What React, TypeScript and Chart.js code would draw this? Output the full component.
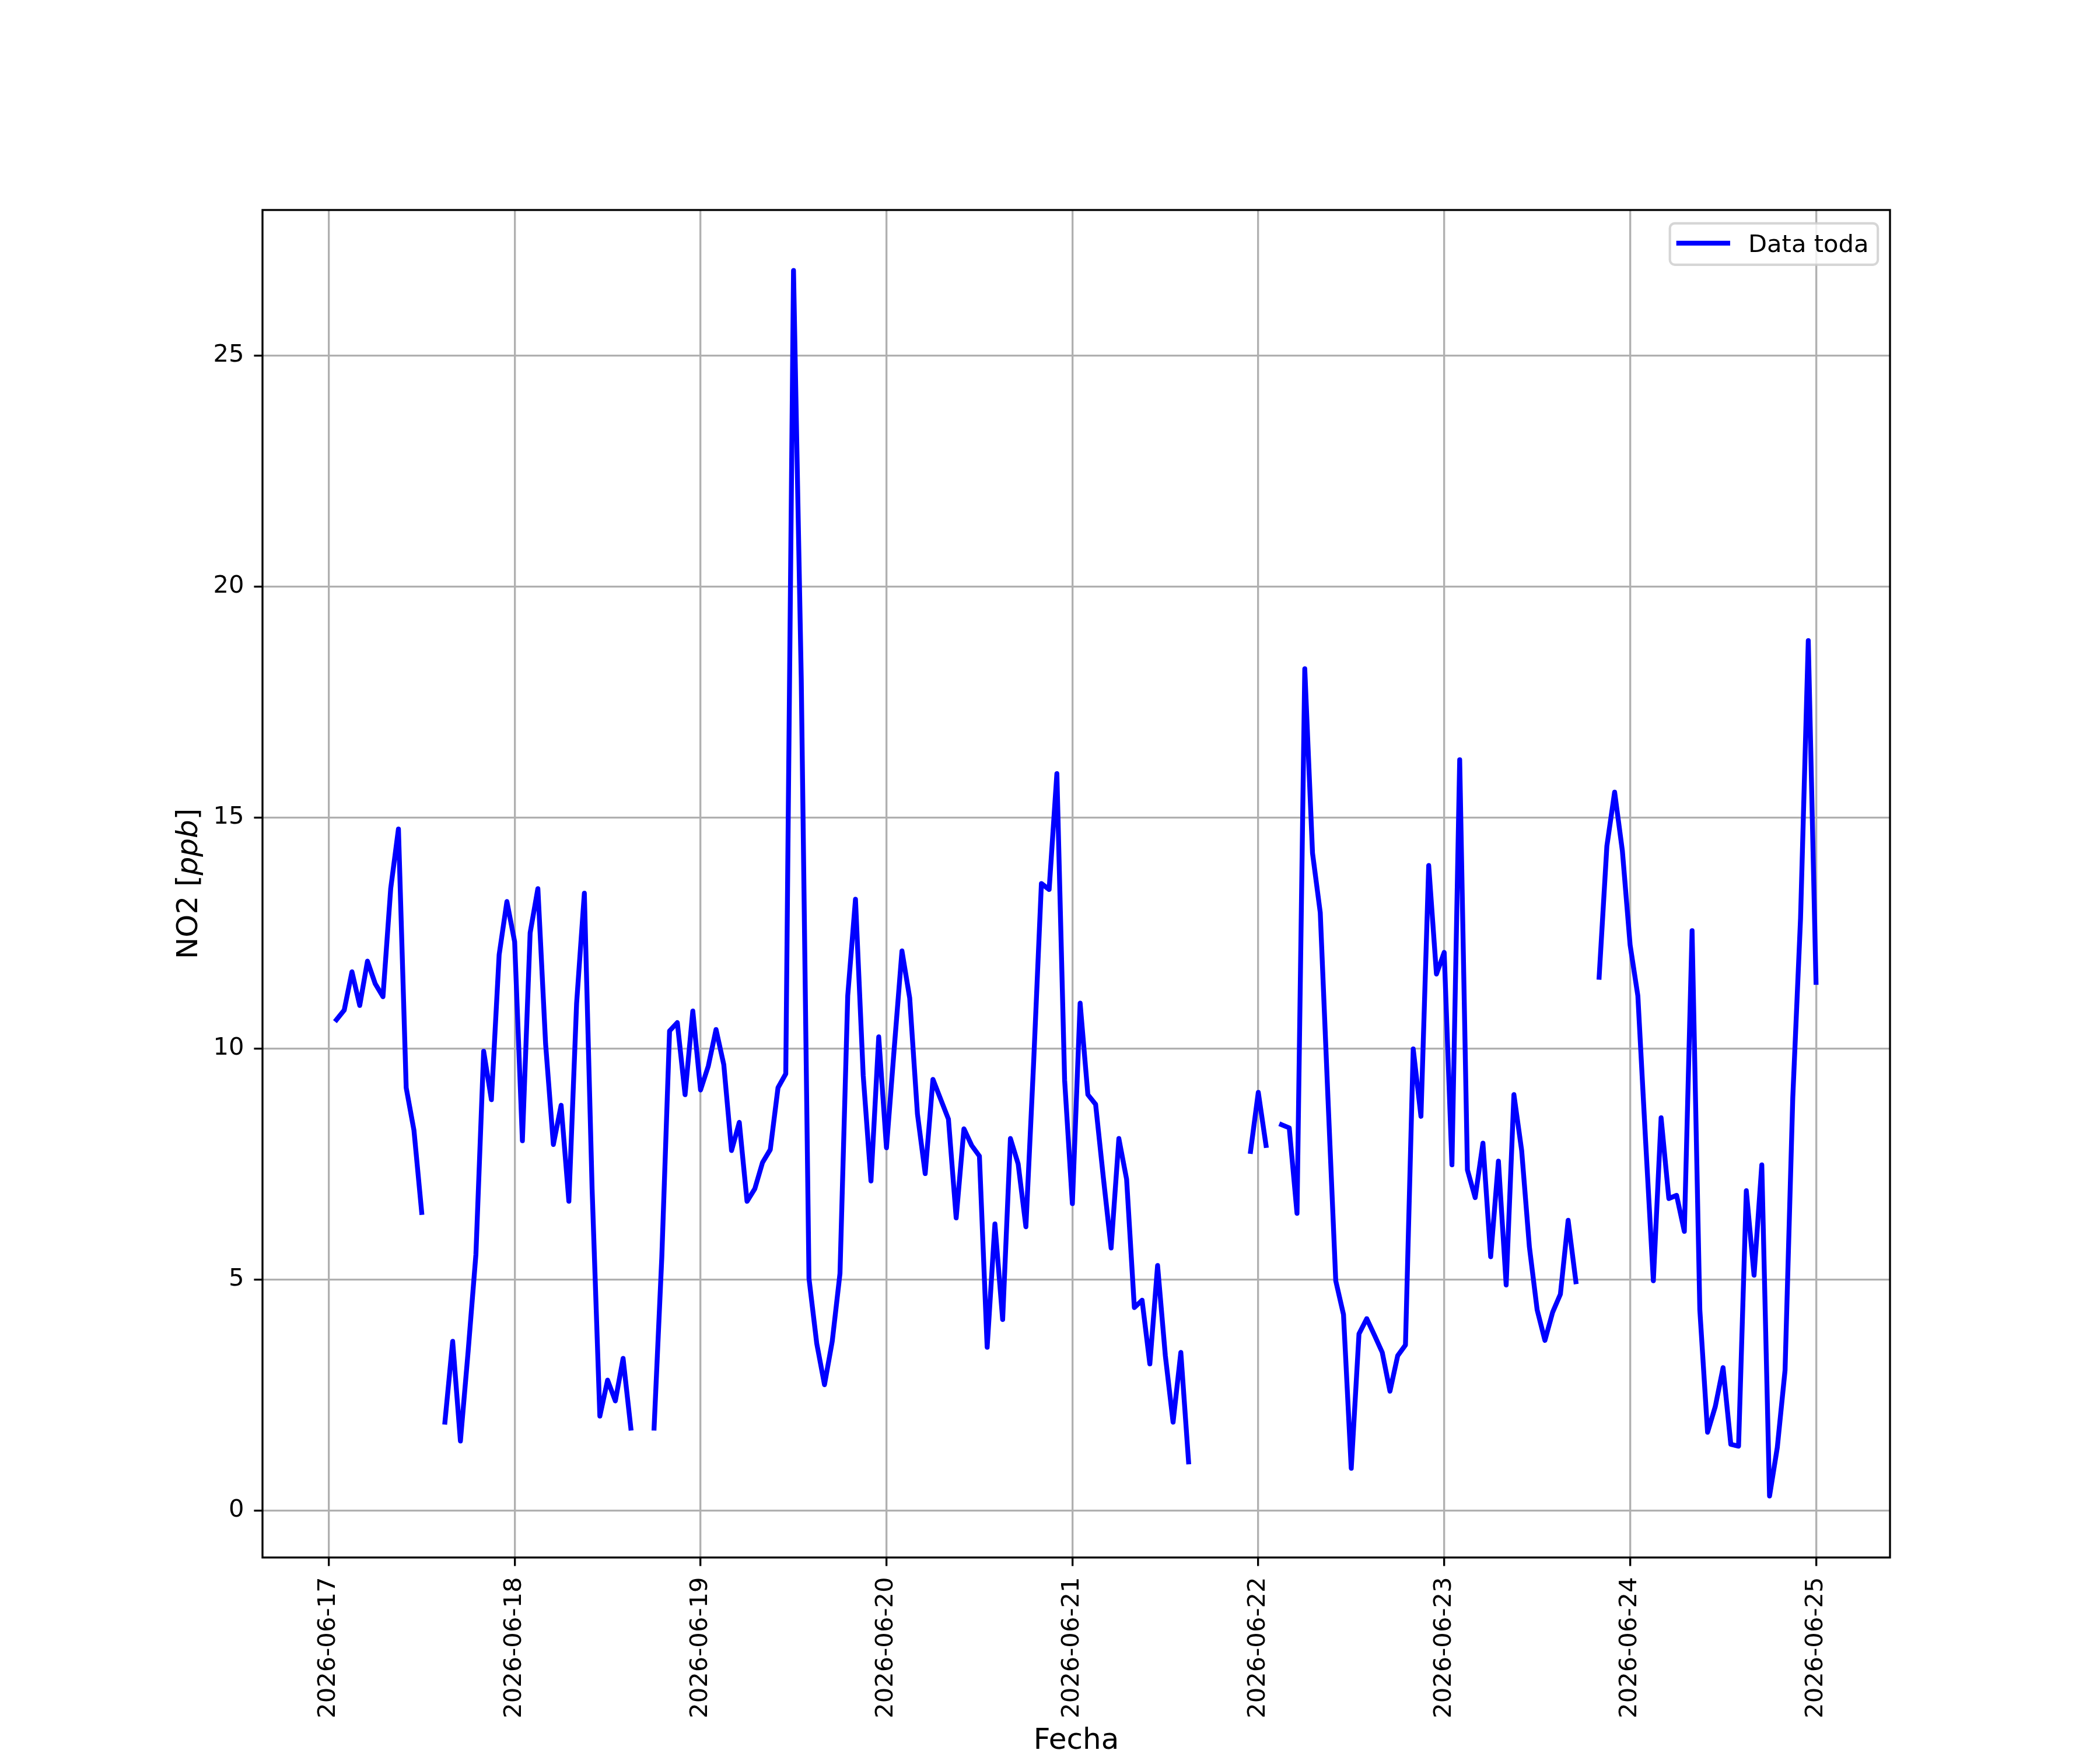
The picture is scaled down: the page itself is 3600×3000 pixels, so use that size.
import React, { useEffect, useRef } from 'react';
import { Chart, registerables } from 'chart.js';

Chart.register(...registerables);

// ---- data ----
const dayLabels = [
  '2026-06-17', '2026-06-18', '2026-06-19', '2026-06-20', '2026-06-21',
  '2026-06-22', '2026-06-23', '2026-06-24', '2026-06-25',
];
// hourly samples, first one at 01:00 on 2026-06-17 (hours after 2026-06-17 00:00)
const firstHour = 1;
const no2: (number | null)[] = [
  // 2026-06-17 01..24
  10.62, 10.83, 11.66, 10.93, 11.89, 11.40, 11.12, 13.46, 14.75, 9.15, 8.23, 6.45,
  null, null, 1.91, 3.66, 1.50, 3.45, 5.54, 9.94, 8.89, 12.03, 13.18, 12.31,
  // 2026-06-18 01..24
  8.00, 12.50, 13.46, 10.09, 7.92, 8.77, 6.69, 10.98, 13.36, 6.96, 2.04, 2.82,
  2.37, 3.29, 1.78, null, null, 1.78, 5.49, 10.38, 10.56, 9.00, 10.81, 9.10,
  // 2026-06-19 01..24
  9.62, 10.41, 9.65, 7.79, 8.40, 6.69, 6.96, 7.53, 7.81, 9.15, 9.45, 26.84,
  18.0, 5.02, 3.61, 2.72, 3.66, 5.13, 11.14, 13.23, 9.41, 7.13, 10.25, 7.85,
  // 2026-06-20 01..24
  10.0, 12.11, 11.09, 8.58, 7.29, 9.33, 8.9, 8.47, 6.33, 8.26, 7.9, 7.67,
  3.53, 6.20, 4.13, 8.05, 7.50, 6.14, 9.7, 13.57, 13.44, 15.95, 9.31, 6.64,
  // 2026-06-21 01..24
  10.98, 9.00, 8.79, 7.2, 5.68, 8.05, 7.17, 4.39, 4.55, 3.17, 5.30, 3.35,
  1.91, 3.42, 1.05, null, null, null, null, null, null, null, 7.77, 9.05,
  // 2026-06-22 01..24
  7.90, null, 8.35, 8.28, 6.43, 18.22, 14.23, 12.94, 8.9, 4.97, 4.24, 0.91,
  3.82, 4.15, 3.79, 3.42, 2.58, 3.35, 3.58, 9.99, 8.53, 13.96, 11.61, 12.08,
  // 2026-06-23 01..24
  7.48, 16.25, 7.37, 6.77, 7.95, 5.49, 7.56, 4.88, 9.00, 7.79, 5.70, 4.34,
  3.68, 4.29, 4.68, 6.28, 4.95, null, null, 11.54, 14.38, 15.55, 14.28, 12.24,
  // 2026-06-24 01..24
  11.14, 8.0, 4.97, 8.50, 6.75, 6.82, 6.04, 12.55, 4.34, 1.69, 2.25, 3.09,
  1.43, 1.39, 6.92, 5.09, 7.48, 0.31, 1.36, 3.03, 8.94, 12.81, 18.83, 11.43,
];
const yTicks = [0, 5, 10, 15, 20, 25];
const seriesLabel = 'Data toda';
const xTitle = 'Fecha';
const yTitleParts = [
  { text: 'NO2 [', italic: false },
  { text: 'ppb', italic: true },
  { text: ']', italic: false },
];

// ---- styling helpers (matplotlib at 300 dpi) ----
const PT = 300 / 72;
const FONT = '"DejaVu Sans"';

const decorPlugin = {
  id: 'decor',
  beforeDraw(chart: any) {
    const ctx = chart.ctx;
    ctx.save();
    ctx.fillStyle = '#ffffff';
    ctx.fillRect(0, 0, chart.width, chart.height);
    ctx.restore();
  },
  afterDraw(chart: any) {
    const ctx: CanvasRenderingContext2D = chart.ctx;
    const a = chart.chartArea;
    ctx.save();
    // frame (spines)
    ctx.strokeStyle = '#000000';
    ctx.lineWidth = 0.8 * PT;
    ctx.lineJoin = 'miter';
    ctx.strokeRect(a.left, a.top, a.right - a.left, a.bottom - a.top);

    // y axis title with italic unit
    const size = 12 * PT;
    const fonts = yTitleParts.map((p) => `${p.italic ? 'italic ' : ''}${size}px ${FONT}`);
    const widths = yTitleParts.map((p, i) => {
      ctx.font = fonts[i];
      return ctx.measureText(p.text).width;
    });
    const total = widths.reduce((s, w) => s + w, 0);
    ctx.save();
    ctx.translate(338, (a.top + a.bottom) / 2);
    ctx.rotate(-Math.PI / 2);
    ctx.fillStyle = '#000000';
    ctx.textBaseline = 'alphabetic';
    ctx.textAlign = 'left';
    let x = -total / 2;
    yTitleParts.forEach((p, i) => {
      ctx.font = fonts[i];
      ctx.fillText(p.text, x, 0);
      x += widths[i];
    });
    ctx.restore();

    // legend (upper right, inside axes)
    const ds = chart.data.datasets[0];
    const fs = 10 * PT;
    ctx.font = `${fs}px ${FONT}`;
    const tw = ctx.measureText(ds.label).width;
    const pad = 0.4 * fs;
    const handle = 2.0 * fs;
    const gap = 0.8 * fs;
    const boxW = pad * 2 + handle + gap + tw;
    const boxH = 71;
    const bx = a.right - 0.5 * fs - boxW;
    const by = a.top + 0.5 * fs + 2;
    const r = 0.2 * fs;
    ctx.beginPath();
    ctx.moveTo(bx + r, by);
    ctx.lineTo(bx + boxW - r, by);
    ctx.arcTo(bx + boxW, by, bx + boxW, by + r, r);
    ctx.lineTo(bx + boxW, by + boxH - r);
    ctx.arcTo(bx + boxW, by + boxH, bx + boxW - r, by + boxH, r);
    ctx.lineTo(bx + r, by + boxH);
    ctx.arcTo(bx, by + boxH, bx, by + boxH - r, r);
    ctx.lineTo(bx, by + r);
    ctx.arcTo(bx, by, bx + r, by, r);
    ctx.closePath();
    ctx.fillStyle = 'rgba(255,255,255,0.8)';
    ctx.fill();
    ctx.strokeStyle = 'rgba(204,204,204,0.8)';
    ctx.lineWidth = 1.0 * PT;
    ctx.stroke();
    const cy = by + boxH / 2 - 1.5;
    ctx.strokeStyle = ds.borderColor;
    ctx.lineWidth = ds.borderWidth;
    ctx.lineCap = 'butt';
    ctx.beginPath();
    ctx.moveTo(bx + 11, cy);
    ctx.lineTo(bx + 11 + handle + 9, cy);
    ctx.stroke();
    ctx.fillStyle = '#000000';
    ctx.textBaseline = 'alphabetic';
    ctx.textAlign = 'left';
    ctx.fillText(ds.label, bx + 11 + handle + 9 + 31, cy + 15.3);
    ctx.restore();
  },
};

export default function App() {
  const ref = useRef<HTMLCanvasElement | null>(null);
  useEffect(() => {
    if (!ref.current) return;
    Chart.defaults.font.family = FONT;
    const points = no2.map((v, i) => ({ x: firstHour + i, y: v }));
    const chart = new Chart(ref.current, {
      type: 'line',
      data: {
        datasets: [
          {
            label: seriesLabel,
            data: points as any,
            borderColor: '#0000ff',
            backgroundColor: '#0000ff',
            borderWidth: 2 * PT,
            pointRadius: 0,
            pointHoverRadius: 0,
            tension: 0,
            spanGaps: false,
            borderCapStyle: 'square',
            borderJoinStyle: 'round',
            fill: false,
          },
        ],
      },
      options: {
        animation: false,
        responsive: false,
        devicePixelRatio: 1,
        events: [],
        layout: { padding: { left: 0, right: 360, top: 360, bottom: 0 } },
        plugins: {
          legend: { display: false },
          tooltip: { enabled: false },
        },
        scales: {
          x: {
            type: 'linear',
            min: -8.55,
            max: 201.55,
            afterBuildTicks: (scale: any) => {
              scale.ticks = dayLabels.map((_, i) => ({ value: i * 24 }));
            },
            afterFit: (scale: any) => {
              scale.height = 330;
              scale.paddingLeft = 0;
              scale.paddingRight = 0;
            },
            ticks: {
              autoSkip: false,
              minRotation: 90,
              maxRotation: 90,
              padding: 19,
              color: '#000000',
              font: { size: 10 * PT, family: FONT },
              callback: (v: any) => dayLabels[Math.round(Number(v) / 24)] ?? '',
            },
            grid: {
              color: '#b0b0b0',
              lineWidth: 0.8 * PT,
              drawTicks: true,
              tickLength: 3.5 * PT,
              tickColor: '#000000',
              tickWidth: 0.8 * PT,
            },
            border: { display: false },
            title: {
              display: true,
              text: xTitle,
              color: '#000000',
              font: { size: 12 * PT, family: FONT, lineHeight: 0.6 },
              padding: 0,
            },
          },
          y: {
            type: 'linear',
            min: -1.02,
            max: 28.15,
            afterBuildTicks: (scale: any) => {
              scale.ticks = yTicks.map((v) => ({ value: v }));
            },
            afterFit: (scale: any) => {
              scale.width = 450;
              scale.paddingTop = 0;
              scale.paddingBottom = 0;
            },
            ticks: {
              padding: 17,
              color: '#000000',
              font: { size: 10 * PT, family: FONT },
              callback: (v: any) => String(v),
            },
            grid: {
              color: '#b0b0b0',
              lineWidth: 0.8 * PT,
              drawTicks: true,
              tickLength: 3.5 * PT,
              tickColor: '#000000',
              tickWidth: 0.8 * PT,
            },
            border: { display: false },
          },
        },
      },
      plugins: [decorPlugin],
    });
    return () => chart.destroy();
  }, []);
  return (
    <div style={{ position: 'absolute', left: 0, top: 0, width: 3600, height: 3000 }}>
      <canvas ref={ref} width={3600} height={3000} style={{ width: 3600, height: 3000, display: 'block' }} />
    </div>
  );
}
